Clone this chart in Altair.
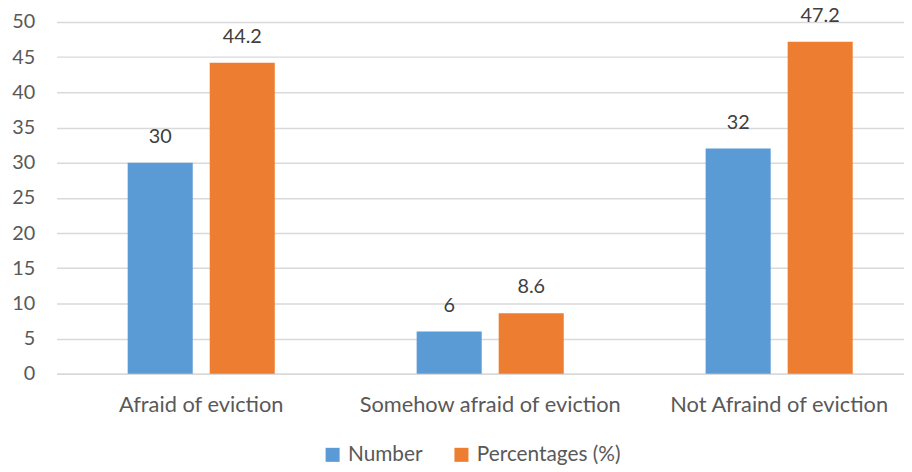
import altair as alt
import pandas as pd

categories = ["Afraid of eviction", "Somehow afraid of eviction", "Not Afraind of eviction"]
series_names = ["Number", "Percentages (%)"]
number_values = [30, 6, 32]
percentage_values = [44.2, 8.6, 47.2]
value_labels_number = ["30", "6", "32"]
value_labels_pct = ["44.2", "8.6", "47.2"]

rows = []
for i, c in enumerate(categories):
    rows.append({"category": c, "series": series_names[0], "value": number_values[i], "label": value_labels_number[i]})
    rows.append({"category": c, "series": series_names[1], "value": percentage_values[i], "label": value_labels_pct[i]})
df = pd.DataFrame(rows)

FONT = "Lato"
GREY = "#595959"

x = alt.X("category:N", sort=categories, title=None,
          scale=alt.Scale(paddingInner=0.491, paddingOuter=0.2118, align=0.581),
          axis=alt.Axis(labelAngle=0, labelFontSize=22, labelColor=GREY, labelFont=FONT, labelLimit=0,
                        labelPadding=21, ticks=False, domainColor="#d9d9d9", domainWidth=1.5))
xo = alt.XOffset("series:N", sort=series_names, scale=alt.Scale(paddingInner=0.207, paddingOuter=0))
y = alt.Y("value:Q", title=None,
          scale=alt.Scale(domain=[0, 50], nice=False),
          axis=alt.Axis(values=list(range(0, 51, 5)), labelFontSize=20, labelColor=GREY, labelFont=FONT,
                        labelPadding=22, ticks=False, domain=False, gridColor="#d9d9d9", gridWidth=1.5))

color = alt.Color("series:N", sort=series_names,
                  scale=alt.Scale(domain=series_names, range=["#5B9BD5", "#ED7D31"]),
                  legend=alt.Legend(title=None, orient="none", direction="horizontal",
                                    legendX=268, legendY=426, symbolType="square", symbolSize=200,
                                    symbolStrokeWidth=0, labelFontSize=21, labelColor=GREY, labelFont=FONT,
                                    columnPadding=28, labelOffset=5, labelLimit=0))

bars = alt.Chart(df).mark_bar().encode(x=x, xOffset=xo, y=y, color=color)
text = alt.Chart(df).mark_text(baseline="bottom", dy=-16, fontSize=20, font=FONT, color="#404040").encode(
    x=x, xOffset=xo, y=y, text="label:N")

chart = (bars + text).properties(
    width=855, height=355,
    autosize=alt.AutoSizeParams(type="none"),
    padding={"left": 49, "top": 12, "right": 0, "bottom": 96},
).configure_view(stroke=None)

chart.save("out.html", embed_options={"renderer": "svg", "actions": False})
